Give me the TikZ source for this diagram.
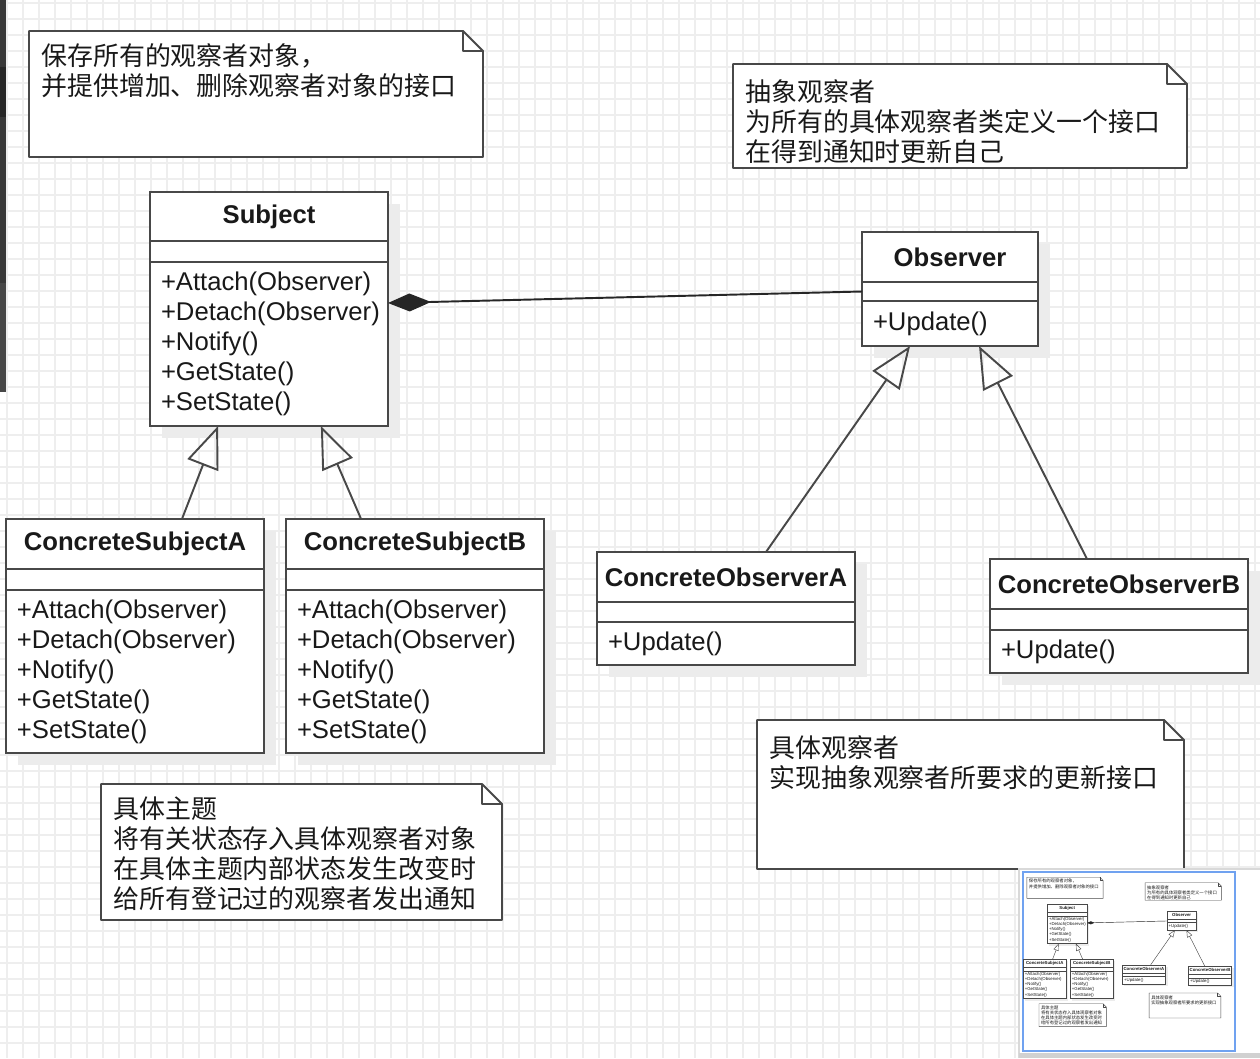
\documentclass[tikz,border=0pt]{standalone}
\usepackage{fontspec}
\usetikzlibrary{arrows.meta,calc}
\newfontfamily\classsans{Liberation Sans}
\newfontfamily\cjk{Noto Sans CJK SC}
\definecolor{umlline}{RGB}{72,72,72}
\definecolor{umltext}{RGB}{25,25,25}
\definecolor{umlshadow}{RGB}{236,236,236}
\definecolor{gridgray}{RGB}{238,238,238}
\definecolor{thumbblue}{RGB}{112,162,240}
\newcommand{\px}{0.02cm}
\newcommand{\lw}{1.1pt}
\newcommand{\arsc}{1}
\newcommand{\classfont}{\classsans\fontsize{14.6}{17.07}\selectfont}
\newcommand{\notefont}{\cjk\fontsize{14.75}{17.07}\selectfont}
\tikzset{
  classpart/.style={draw=umlline, line width=\lw, fill=white, inner sep=0pt, outer sep=0pt, text=umltext, font=\classfont},
  classname/.style={classpart, font=\classfont\bfseries},
  notetext/.style={anchor=north west, inner sep=0pt, align=left, text=umltext, font=\notefont},
  notebox/.style={draw=umlline, line width=\lw, fill=white, line join=round},
  inherit/.style={draw=umlline, line width=\lw, -{Triangle[open, length=0.84cm, width=0.66cm, scale=\arsc]}},
  compose/.style={draw=black!85, line width=\lw, -{Diamond[length=0.86cm, width=0.36cm, scale=\arsc]}},
  gridline/.style={draw=gridgray, line width=0.8pt},
}
% class box: name, x, y, width, title, title h, attr h, methods, methods h
\newcommand{\umlclass}[9]{%
  \pgfmathsetmacro{\methw}{(#4-22)*0.02}
  \fill[umlshadow] (#2+12,#3+12) rectangle (#2+#4+12,#3+#6+#7+#9+12);
  \node[classname, anchor=north west, minimum width=#4*\px, minimum height=#6*\px] (#1) at (#2,#3) {#5};
  \node[classpart, anchor=north, minimum width=#4*\px, minimum height=#7*\px] (#1-a) at (#1.south) {};
  \node[classpart, anchor=north, minimum width=#4*\px, minimum height=#9*\px, text width=\methw cm, align=left] (#1-m) at (#1-a.south) {#8};
}
% note frame with folded corner: x1, y1, x2, y2
\newcommand{\umlnote}[4]{%
  \draw[notebox] (#1,#2) -- (#3-20,#2) -- (#3,#2+20) -- (#3,#4) -- (#1,#4) -- cycle;
  \draw[notebox, fill=none] (#3-20,#2) -- (#3-20,#2+20) -- (#3,#2+20);
}
\newcommand{\observerdiagram}{%
  \umlnote{29}{31}{483}{157}% subject note
  \node[notetext] (note-subject) at (41,43) {保存所有的观察者对象，\\并提供增加、删除观察者对象的接口};
  \umlnote{733}{64}{1187}{168}% observer note
  \node[notetext] (note-observer) at (745,79) {抽象观察者\\为所有的具体观察者类定义一个接口\\在得到通知时更新自己};
  \umlnote{101}{784}{502}{920}% concrete subject note
  \node[notetext] (note-csub) at (113,796) {具体主题\\将有关状态存入具体观察者对象\\在具体主题内部状态发生改变时\\给所有登记过的观察者发出通知};
  \umlnote{757}{720}{1184}{869}% concrete observer note
  \node[notetext] (note-cobs) at (769,735) {具体观察者\\实现抽象观察者所要求的更新接口};
  \umlclass{sub}{150}{192}{238}{Subject}{49}{21}{+Attach(Observer)\\+Detach(Observer)\\+Notify()\\+GetState()\\+SetState()}{164}
  \umlclass{obs}{862}{232}{176}{Observer}{50}{19}{+Update()}{45}
  \umlclass{csa}{6}{519}{258}{ConcreteSubjectA}{50}{21}{+Attach(Observer)\\+Detach(Observer)\\+Notify()\\+GetState()\\+SetState()}{163}
  \umlclass{csb}{286}{519}{258}{ConcreteSubjectB}{50}{21}{+Attach(Observer)\\+Detach(Observer)\\+Notify()\\+GetState()\\+SetState()}{163}
  \umlclass{coa}{597}{552}{258}{ConcreteObserverA}{50}{20}{+Update()}{43}
  \umlclass{cob}{990}{559}{258}{ConcreteObserverB}{50}{21}{+Update()}{43}
  \draw[compose] (obs-a.west) -- ($(sub-m.north east)!0.25!(sub-m.south east)$);% composition
  \draw[inherit] ($(csa.north west)!0.682!(csa.north east)$) -- ($(sub-m.south west)!0.286!(sub-m.south east)$);
  \draw[inherit] ($(csb.north west)!0.291!(csb.north east)$) -- ($(sub-m.south west)!0.718!(sub-m.south east)$);
  \draw[inherit] ($(coa.north west)!0.655!(coa.north east)$) -- ($(obs-m.south west)!0.273!(obs-m.south east)$);
  \draw[inherit] ($(cob.north west)!0.376!(cob.north east)$) -- ($(obs-m.south west)!0.665!(obs-m.south east)$);
}
\begin{document}
\begin{tikzpicture}[x=0.02cm, y=-0.02cm]
\useasboundingbox (0,0) rectangle (1260,1058);
\fill[white] (0,0) rectangle (1260,1058);
\foreach \gx in {7,23,...,1255} \draw[gridline] (\gx,0) -- (\gx,1058);
\foreach \gy in {3,19,...,1058} \draw[gridline] (0,\gy) -- (1260,\gy);
% side bar
\fill[black!78] (0,0) rectangle (6,67);
\fill[black!85] (0,67) rectangle (6,117);
\fill[black!78] (0,117) rectangle (6,283);
\fill[black!72] (0,283) rectangle (6,392);
\observerdiagram
% overview panel
\fill[white] (1019,869) rectangle (1260,1058);
\draw[black!15, line width=1pt] (1019,1058) -- (1019,869) -- (1260,869);
\fill[black!18] (1019,1053) rectangle (1260,1058);
\draw[thumbblue, line width=1.2pt] (1023,872) rectangle (1235,1051);
\begin{scope}[shift={(1022,872)}, scale=0.168, transform shape]
  \renewcommand{\lw}{0.25pt}\renewcommand{\arsc}{0.168}
  \observerdiagram
\end{scope}
\end{tikzpicture}
\end{document}
